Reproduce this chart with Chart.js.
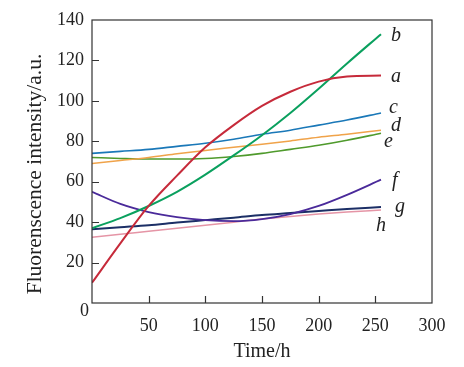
<!DOCTYPE html>
<html>
<head>
<meta charset="utf-8">
<script src="https://cdn.jsdelivr.net/npm/chart.js@4.4.0/dist/chart.umd.min.js"></script>
<style>
  html, body { margin: 0; padding: 0; background: #fff; }
  #wrap { width: 464px; height: 367px; }
</style>
</head>
<body>
<div id="wrap"><canvas id="chart" width="464" height="367"></canvas></div>
<script>
// Time points (h) and fluorescence values per curve
const hours = [0, 25, 50, 75, 100, 125, 150, 175, 200, 225, 255];
const curveA = [10, 29.5, 48, 63, 77, 88, 97.5, 104.5, 109.5, 112, 112.5];
const curveB = [37, 42, 48, 55, 63.5, 73, 83, 94, 106, 118.5, 133];
const curveC = [74, 75, 76, 77.5, 79, 81, 83.5, 85.5, 88, 90.5, 94];
const curveD = [69, 70.5, 72, 73.8, 75.5, 77, 78.5, 80.2, 82, 83.5, 85.5];
const curveE = [72, 71.5, 71.2, 71.2, 71.5, 72.5, 74, 76, 78, 80.5, 84];
const curveF = [55, 49, 45, 42.5, 41, 40.5, 41.5, 44, 48, 53.5, 61];
const curveG = [36.5, 37.5, 38.5, 39.8, 41, 42.2, 43.5, 44.5, 45.5, 46.5, 47.5];
const curveH = [32.5, 34, 35.5, 37, 38.5, 40, 41.5, 42.8, 44, 45, 46];

const curveNames = ['a', 'b', 'c', 'd', 'e', 'f', 'g', 'h'];
const xTicks = [0, 50, 100, 150, 200, 250, 300];
const yTicks = [0, 20, 40, 60, 80, 100, 120, 140];

const colors = ['#c62a3a', '#0aa05e', '#1a78b8', '#f0a34a', '#4f9a2c', '#4a2a9a', '#1c2f66', '#e595a6'];
const widths = [2, 2, 1.6, 1.5, 1.6, 1.8, 2, 1.5];
// pixel nudges of the letter tags from each curve's last point
const tagOffsets = [[10, 1], [10, 2], [8, -5], [10, -4], [3, 9], [11, 1], [14, 0], [-5, 16]];

const serif = '"Liberation Serif", "Times New Roman", serif';
const allCurves = [curveA, curveB, curveC, curveD, curveE, curveF, curveG, curveH];

const datasets = allCurves.map((vals, i) => ({
  label: curveNames[i],
  data: hours.map((h, j) => ({ x: h, y: vals[j] })),
  borderColor: colors[i],
  borderWidth: widths[i],
  pointRadius: 0,
  fill: false,
  cubicInterpolationMode: 'monotone'
}));

// box, inner ticks, shared origin label, axis titles and curve tags
const decor = {
  id: 'decor',
  afterDraw(chart) {
    const ctx = chart.ctx;
    const area = chart.chartArea;
    const xs = chart.scales.x, ys = chart.scales.y;
    ctx.save();
    ctx.strokeStyle = '#333';
    ctx.lineWidth = 1.2;
    ctx.strokeRect(area.left, area.top, area.right - area.left, area.bottom - area.top);
    ctx.beginPath();
    xTicks.slice(1, -1).forEach(v => {
      const px = Math.round(xs.getPixelForValue(v)) + 0.5;
      ctx.moveTo(px, area.bottom);
      ctx.lineTo(px, area.bottom - 7);
    });
    yTicks.slice(1, -1).forEach(v => {
      const py = Math.round(ys.getPixelForValue(v)) + 0.5;
      ctx.moveTo(area.left, py);
      ctx.lineTo(area.left + 7, py);
    });
    ctx.stroke();

    ctx.fillStyle = '#222';
    ctx.font = '18px ' + serif;
    ctx.textAlign = 'right';
    ctx.textBaseline = 'middle';
    ctx.fillText('0', area.left - 3, area.bottom + 8);

    ctx.textAlign = 'center';
    ctx.font = '20px ' + serif;
    ctx.fillText('Time/h', (area.left + area.right) / 2, 352);
    ctx.save();
    ctx.translate(35, 174);
    ctx.rotate(-Math.PI / 2);
    ctx.font = '21.5px ' + serif;
    ctx.fillText('Fluorenscence intensity/a.u.', 0, 0);
    ctx.restore();

    ctx.font = 'italic 20px ' + serif;
    ctx.textAlign = 'left';
    chart.data.datasets.forEach((ds, i) => {
      const last = ds.data[ds.data.length - 1];
      const px = xs.getPixelForValue(last.x) + tagOffsets[i][0];
      const py = ys.getPixelForValue(last.y) + tagOffsets[i][1];
      ctx.fillText(ds.label, px, py);
    });
    ctx.restore();
  }
};

new Chart(document.getElementById('chart'), {
  type: 'line',
  data: { datasets: datasets },
  options: {
    responsive: false,
    animation: false,
    layout: { padding: { left: 0, right: 32, top: 20, bottom: 0 } },
    plugins: { legend: { display: false }, tooltip: { enabled: false } },
    scales: {
      x: {
        type: 'linear',
        min: 0, max: 300,
        afterBuildTicks: s => { s.ticks = xTicks.map(v => ({ value: v })); },
        afterFit: s => { s.height = 64; },
        grid: { display: false, drawTicks: false },
        border: { display: false },
        ticks: {
          padding: 12,
          color: '#222',
          font: { family: serif, size: 18 },
          callback: v => (v === 0 ? '' : v)
        }
      },
      y: {
        min: 0, max: 140,
        afterBuildTicks: s => { s.ticks = yTicks.map(v => ({ value: v })); },
        afterFit: s => { s.width = 92; },
        grid: { display: false, drawTicks: false },
        border: { display: false },
        ticks: {
          padding: 8,
          color: '#222',
          font: { family: serif, size: 18 },
          callback: v => (v === 0 ? '' : v)
        }
      }
    }
  },
  plugins: [decor]
});
</script>
</body>
</html>
